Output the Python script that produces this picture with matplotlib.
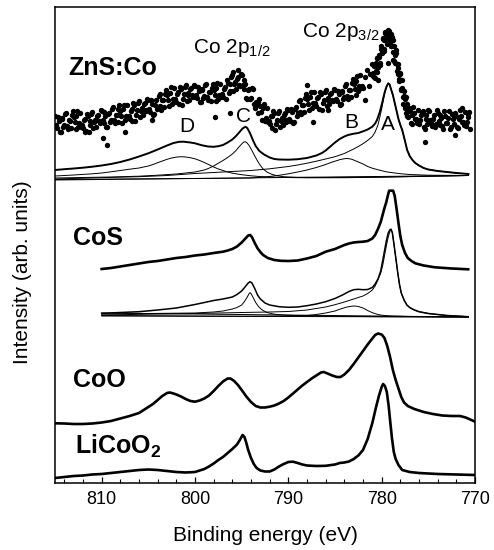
import matplotlib
matplotlib.use("Agg")
from matplotlib import pyplot as plt

plt.rcParams['font.family'] = ['Liberation Sans', 'DejaVu Sans']
plt.rcParams['mathtext.fontset'] = 'custom'
plt.rcParams['mathtext.rm'] = 'Liberation Sans'
plt.rcParams['mathtext.bf'] = 'Liberation Sans:bold'

# ---- ZnS:Co measured points (binding energy in eV, intensity in arb. units incl. offset)
zns_dot_ev = [
    815.0, 814.8, 814.6, 814.4, 814.2, 814.0, 813.8, 813.6, 813.4, 813.2,
    813.0, 812.8, 812.6, 812.4, 812.2, 812.0, 811.8, 811.6, 811.4, 811.2, 811.8,
    811.0, 810.8, 810.6, 810.4, 810.2, 809.85, 809.4,
    810.0, 809.8, 809.6, 809.4, 809.2, 809.0, 808.8, 808.6, 808.4, 808.2,
    808.0, 807.8, 807.6, 807.4, 807.2, 807.5, 807.0, 806.8, 806.6, 806.4, 806.2,
    806.0, 805.8, 805.6, 805.4, 805.2, 805.0, 804.8, 804.6, 804.4, 804.2, 804.6,
    804.0, 803.8, 803.6, 803.4, 803.2, 803.0, 802.8, 802.6, 802.4, 802.2,
    802.0, 801.8, 801.6, 801.4, 801.2, 801.0, 800.8, 800.6, 800.4, 800.2,
    800.0, 799.8, 799.6, 799.4, 799.2, 799.0, 798.8, 798.6, 798.4, 798.2,
    798.0, 797.8, 797.6, 797.4, 797.2, 797.85, 797.0, 796.8, 796.6, 796.4, 796.2, 796.2,
    796.0, 795.8, 795.6, 795.4, 795.2, 795.9, 795.4,
    795.0, 794.8, 794.6, 794.4, 794.2, 794.0, 793.8, 793.6, 793.4, 793.2,
    793.0, 792.8, 792.6, 792.4, 792.2, 792.0, 791.8, 791.6, 791.4, 791.2,
    791.0, 790.8, 790.6, 790.4, 790.2, 790.0, 789.8, 789.6, 789.4, 789.2,
    789.0, 788.8, 788.6, 788.4, 788.2, 788.0, 787.8, 787.6, 787.4, 787.2,
    787.0, 786.8, 786.6, 786.4, 786.2, 787.35, 788.0, 785.7,
    786.0, 785.8, 785.6, 785.4, 785.2, 785.0, 784.8, 784.6, 784.4, 784.2,
    784.0, 783.8, 783.6, 783.4, 783.2, 783.0, 782.8, 782.6, 782.4, 782.2,
    782.0, 781.8, 781.6, 781.4, 781.2, 781.8,
    781.0, 780.9, 780.8, 780.7, 780.6, 780.5, 780.4, 780.3, 780.2, 780.1, 780.4,
    780.0, 779.9, 779.8, 779.7, 779.6, 779.5, 779.4, 779.3, 779.2, 779.1,
    779.0, 778.9, 778.8, 778.7, 778.6, 779.3, 778.8,
    778.5, 778.4, 778.3, 778.2, 778.1, 778.0, 777.9, 777.8, 777.7, 777.6,
    777.5, 777.4, 777.3, 777.2, 777.1, 777.0, 776.8, 776.6, 776.4, 776.2,
    776.0, 775.8, 775.6, 775.4, 775.2, 775.35, 775.0, 774.8, 774.6, 774.4, 774.2,
    774.0, 773.8, 773.6, 773.4, 773.2, 773.0, 772.8, 772.6, 772.4, 772.2,
    772.0, 771.8, 771.6, 771.4, 771.2, 772.1, 771.0, 770.8, 770.6, 771.4,
]
zns_dot_int = [
    367, 355, 362, 351, 365, 358, 370, 354, 362, 368,
    366, 354, 372, 360, 356, 355, 364, 369, 351, 362, 351,
    371, 361, 356, 368, 360, 345, 338,
    372, 360, 367, 356, 370, 363, 376, 360, 368, 374,
    372, 360, 378, 367, 365, 351, 364, 374, 380, 362, 373,
    382, 372, 368, 380, 372, 383, 371, 379, 369, 383, 363,
    376, 389, 373, 383, 389, 388, 377, 396, 384, 382,
    381, 391, 396, 378, 389, 398, 388, 383, 395, 386,
    397, 385, 392, 381, 394, 387, 399, 383, 391, 395,
    393, 382, 400, 388, 386, 366, 386, 396, 403, 390, 399, 370,
    408, 399, 394, 406, 397, 411, 413,
    408, 394, 399, 384, 394, 385, 394, 375, 379, 381,
    377, 363, 379, 365, 361, 359, 367, 372, 353, 363,
    372, 362, 358, 370, 361, 373, 362, 371, 361, 376,
    370, 383, 369, 378, 385, 384, 373, 391, 380, 377,
    377, 386, 391, 373, 383, 361, 398, 373,
    393, 383, 379, 390, 382, 393, 382, 389, 379, 392,
    386, 399, 384, 393, 400, 399, 388, 407, 397, 395,
    395, 406, 413, 397, 409, 383,
    419, 410, 406, 419, 412, 425, 416, 426, 418, 434, 403,
    430, 445, 432, 443, 450, 450, 439, 453, 444, 440,
    437, 443, 443, 422, 428, 420, 423,
    433, 419, 409, 415, 402, 410, 393, 395, 379, 387,
    377, 386, 367, 372, 375, 372, 359, 376, 364, 360,
    359, 368, 372, 354, 364, 341, 373, 363, 357, 368, 359,
    370, 358, 365, 354, 367, 360, 372, 356, 364, 369,
    367, 355, 373, 361, 358, 348, 357, 366, 371, 375,
]
zns_dot2_ev = [
    814.9, 814.7, 814.5, 814.3, 814.1, 813.9, 813.7, 813.5, 813.3, 813.1,
    812.9, 812.7, 812.5, 812.3, 812.1, 811.9, 811.7, 811.5, 811.3, 811.1,
    810.9, 810.7, 810.5, 810.3, 810.1, 809.9, 809.7, 809.5, 809.3, 809.1,
    808.9, 808.7, 808.5, 808.3, 808.1, 807.9, 807.7, 807.5, 807.3, 807.1,
    806.9, 806.7, 806.5, 806.3, 806.1, 805.9, 805.7, 805.5, 805.3, 805.1,
    804.9, 804.7, 804.5, 804.3, 804.1, 803.9, 803.7, 803.5, 803.3, 803.1,
    802.9, 802.7, 802.5, 802.3, 802.1, 801.9, 801.7, 801.5, 801.3, 801.1,
    800.9, 800.7, 800.5, 800.3, 800.1, 799.9, 799.7, 799.5, 799.3, 799.1,
    798.9, 798.7, 798.5, 798.3, 798.1, 797.9, 797.7, 797.5, 797.3, 797.1,
    796.9, 796.7, 796.5, 796.3, 796.1, 795.9, 795.7, 795.5, 795.3, 795.1,
    794.9, 794.7, 794.5, 794.3, 794.1, 793.9, 793.7, 793.5, 793.3, 793.1,
    792.9, 792.7, 792.5, 792.3, 792.1, 791.9, 791.7, 791.5, 791.3, 791.1,
    790.9, 790.7, 790.5, 790.3, 790.1, 789.9, 789.7, 789.5, 789.3, 789.1,
    788.9, 788.7, 788.5, 788.3, 788.1, 787.9, 787.7, 787.5, 787.3, 787.1,
    786.9, 786.7, 786.5, 786.3, 786.1, 785.9, 785.7, 785.5, 785.3, 785.1,
    784.9, 784.7, 784.5, 784.3, 784.1, 783.9, 783.7, 783.5, 783.3, 783.1,
    782.9, 782.7, 782.5, 782.3, 782.1,
    780.95, 780.85, 780.75, 780.65, 780.55, 780.45, 780.35, 780.25, 780.15, 780.05,
    779.95, 779.85, 779.75, 779.65, 779.55, 779.45, 779.35, 779.25, 779.15, 779.05,
    778.95, 778.85, 778.75, 778.65, 778.55, 778.45, 778.35, 778.25, 778.15, 778.05,
    777.95, 777.85, 777.75, 777.65, 777.55, 777.45, 777.35, 777.25, 777.15, 777.05,
    776.9, 776.7, 776.5, 776.3, 776.1, 775.9, 775.7, 775.5, 775.3, 775.1,
    774.9, 774.7, 774.5, 774.3, 774.1, 773.9, 773.7, 773.5, 773.3, 773.1,
    772.9, 772.7, 772.5, 772.3, 772.1, 771.9, 771.7, 771.5, 771.3, 771.1,
    770.9, 770.7, 770.5,
]
zns_dot2_int = [
    358, 366, 351, 364, 356, 369, 357, 363, 355, 372,
    361, 367, 356, 370, 358, 363, 352, 367, 358, 369,
    355, 363, 367, 362, 373, 363, 371, 356, 369, 361,
    374, 363, 368, 361, 378, 367, 374, 363, 378, 367,
    372, 362, 378, 368, 380, 366, 375, 379, 373, 384,
    374, 383, 368, 378, 374, 387, 377, 383, 376, 393,
    383, 390, 379, 395, 384, 389, 379, 394, 384, 396,
    382, 390, 394, 388, 398, 388, 396, 381, 393, 385,
    398, 386, 391, 382, 399, 388, 395, 384, 399, 389,
    394, 384, 400, 392, 406, 392, 401, 404, 398, 409,
    398, 403, 385, 393, 384, 395, 379, 381, 370, 384,
    371, 375, 362, 375, 362, 367, 355, 370, 359, 370,
    356, 365, 368, 363, 374, 364, 374, 360, 374, 367,
    382, 371, 378, 371, 389, 379, 386, 375, 391, 380,
    385, 374, 389, 380, 391, 377, 385, 389, 383, 394,
    384, 392, 378, 391, 384, 397, 387, 393, 386, 404,
    394, 402, 392, 408, 397,
    407, 417, 405, 420, 411, 425, 416, 428, 420, 437,
    431, 444, 434, 451, 443, 448, 441, 452, 442, 449,
    437, 446, 431, 437, 420, 430, 412, 419, 404, 409,
    394, 403, 386, 392, 375, 384, 370, 379, 366, 374,
    360, 368, 370, 364, 373, 363, 371, 356, 368, 359,
    372, 360, 364, 356, 373, 362, 368, 357, 372, 360,
    365, 354, 369, 359, 370, 356, 364, 367, 361, 371,
    361, 369, 354,
]

# ---- ZnS:Co fit envelope, components and background
zns_fit_ev = [815, 814, 813, 812, 811, 810, 809, 808, 807, 806,
              805, 804, 803, 802.3, 801.7, 801.2, 800.5, 800, 799.3, 798.6,
              798, 797.5, 797, 796.5, 796, 795.6, 795.2, 794.9, 794.6, 794.4,
              794.1, 793.8, 793.5, 793.1, 792.6, 792, 791.5, 791, 790, 789,
              788, 787, 786.4, 786, 785.5, 785, 784.5, 784, 783.6, 783,
              782.5, 782.1, 781.5, 781, 780.7, 780.5, 780.2, 779.95, 779.7, 779.5,
              779.3, 779.15, 779, 778.8, 778.6, 778.4, 778.2, 778, 777.8, 777.5,
              777.27, 777, 776.7, 776.4, 776, 775.5, 775, 774, 773, 772, 770.7]
zns_fit_int = [313, 313.8, 314.5, 315.3, 316.3, 317.5, 319, 321, 323.5, 326.5,
               329.7, 333.5, 337.5, 340, 341.2, 341.3, 340.5, 339.7, 337.8, 336.5,
               336.2, 336.8, 338, 340.5, 343.5, 347, 351.3, 354.5, 356.3, 355,
               349.7, 343, 337, 332, 328.5, 325.5, 324, 323.5, 323.3, 323.8,
               325, 327.5, 330, 332.5, 336.5, 340.5, 344, 346.5, 348, 349.3,
               350, 351.3, 353.5, 356.3, 359.5, 363, 371, 380, 390, 396,
               399.7, 398.5, 394, 388, 380, 372, 364, 358, 353, 342,
               333, 327, 323, 320, 317.5, 315, 313.5, 312, 311, 310, 309]
zns_bg_ev = [815.0, 770.7]
zns_bg_int = [303, 307.5]
zns_d_ev = [815, 814, 813, 812, 811, 810, 809, 808, 807, 806,
            805, 804.5, 804, 803.5, 803, 802.5, 802, 801.5, 801, 800.5,
            800, 799.5, 799, 798.5, 798, 797.5, 797, 796.5, 796, 795,
            794, 793, 791, 788, 784, 780, 775, 770.7]
zns_d_int = [307, 307.5, 308, 308.6, 309.2, 310, 311.2, 312.5, 313.8, 315,
             317, 318.5, 320.3, 322, 323.7, 325, 325.9, 326.3, 326, 325.3,
             324.2, 322.5, 320.5, 318.3, 316, 314, 312.5, 311, 309.8, 308.3,
             307.2, 306.4, 305.6, 305.2, 305.3, 305.8, 306.7, 307.5]
zns_c_ev = [815, 812, 809, 806, 804, 802, 801, 800, 799, 798.5,
            798, 797.5, 797, 796.5, 796, 795.6, 795.3, 795, 794.8, 794.64,
            794.45, 794.2, 793.9, 793.6, 793.3, 793, 792.7, 792.3, 791.8, 791.2,
            790.5, 789, 786, 780, 770.7]
zns_c_int = [305, 305.5, 306, 306.8, 307.8, 309, 310, 311, 313, 314.8,
             317, 319.8, 322.5, 325.5, 329, 332.5, 336, 339, 340.8, 341.3,
             340.3, 337.5, 332.5, 327, 322, 317.5, 314, 311, 308.8, 307.2,
             306.3, 305.6, 305.5, 306, 307.5]
zns_b_ev = [815, 805, 800, 796, 794, 792, 791, 790, 789, 788,
            787, 786.5, 786, 785.5, 785, 784.5, 784, 783.7, 783.3, 783,
            782.5, 782, 781.5, 781, 780.5, 780, 779.5, 779, 778, 777,
            775, 770.7]
zns_b_int = [303.5, 304.2, 304.5, 304.8, 305, 306.5, 307.7, 309.2, 311, 313,
             315.5, 317, 318.5, 320.3, 321.8, 323.3, 324.3, 324.5, 324, 323,
             321, 319, 316.5, 314.8, 313.5, 312.3, 311.2, 310.5, 309.3, 308.5,
             307.8, 307.5]
zns_a_ev = [815, 812, 809, 806, 803, 800, 797, 794, 792, 790,
            789, 788, 787, 786, 785, 784, 783, 782.5, 782, 781.5,
            781, 780.7, 780.4, 780.17, 780, 779.8, 779.63, 779.45, 779.3, 779.15,
            779, 778.8, 778.6, 778.4, 778.2, 778, 777.8, 777.5, 777.27, 777,
            776.7, 776.4, 776, 775.5, 775, 774, 773, 772, 770.7]
zns_a_int = [304, 304.8, 305.6, 306.3, 307.5, 309.5, 311, 312.5, 314.2, 316.5,
             318, 319.8, 321.8, 324, 326.3, 329.5, 334, 336.5, 339.3, 342.6,
             346.5, 351, 358, 367, 374, 384, 391.3, 397, 399.7, 398.5,
             394, 388, 380, 372, 364, 358, 353, 342, 333, 327,
             323, 320, 317.5, 315, 313.5, 312, 311, 310, 309]

# ---- CoS measured
cos_ev = [810, 809, 808, 807, 806, 805, 804, 803, 802, 801,
          800, 799, 798, 797, 796.5, 796, 795.5, 795, 794.6, 794.3,
          794.1, 793.9, 793.6, 793.3, 793, 792.7, 792.2, 791.5, 790.8, 790,
          789, 788, 787, 786, 785, 784, 783.5, 783, 782.5, 782,
          781.5, 781, 780.7, 780.4, 780.1, 779.9, 779.7, 779.5, 779.35, 779.2,
          778.77, 778.6, 778.4, 778.2, 778, 777.8, 777.5, 777.2, 776.8, 776.4,
          775.5, 774.3, 772.5, 770.73]
cos_int = [214, 215, 216.5, 218, 219.5, 221, 222, 223.5, 225, 226,
           227.5, 228.5, 230, 231.3, 232.5, 234, 236.5, 240.5, 244.5, 247.5,
           248, 246, 240, 234.7, 231, 228, 225, 223, 222.2, 222,
           222.5, 224.5, 227, 231.3, 234, 238, 239.5, 240.5, 241, 241.3,
           242, 244.5, 248, 254, 261, 268, 275, 281, 287, 292.3,
           292.3, 287, 274, 260, 247, 238, 230, 225, 222, 219.7,
           217.5, 215.7, 214.5, 213.7]

# ---- CoS fit envelope, components and background
cosf_ev = [810, 808, 806, 804, 802, 800, 799, 798, 797, 796,
           795.5, 795, 794.6, 794.3, 794.1, 793.9, 793.6, 793.3, 793, 792.5,
           792, 791, 790, 789, 788, 787, 786, 785, 784.2, 783.5,
           783, 782.5, 782, 781.5, 781, 780.7, 780.4, 780.1, 779.9, 779.7,
           779.5, 779.3, 779.1, 778.99, 778.85, 778.7, 778.5, 778.3, 778.1, 777.9,
           777.6, 777.3, 777, 776.5, 776, 775, 774, 773, 772, 770.73]
cosf_int = [169.7, 170.5, 171.3, 173, 175, 178.5, 180.5, 182.5, 184, 186,
            188.5, 192, 196.5, 200, 201.3, 200, 194.5, 188, 184, 180,
            178, 176.3, 175.7, 176, 177.3, 179, 181.3, 184.5, 188, 191.5,
            193.3, 193.7, 193.3, 193.5, 195.5, 199, 204, 212, 222, 232,
            242, 250, 253.5, 253.7, 250, 240, 226, 212, 199, 190,
            183, 178, 175.5, 173, 171.3, 169.5, 168.5, 167.5, 167, 166.3]
cos_bg1_ev = [810.0, 770.73]
cos_bg1_int = [170, 166]
cos_bg2_ev = [810.0, 790.0, 770.73]
cos_bg2_int = [167, 166.5, 166]
cos_c_ev = [810, 805, 800, 798, 797, 796.5, 796, 795.5, 795, 794.7,
            794.4, 794.2, 794.1, 794, 793.8, 793.5, 793.2, 792.8, 792.3, 791.5,
            790.5, 789, 786, 780, 770.73]
cos_c_int = [169, 169.5, 170, 171, 172, 173, 174, 175.5, 178, 181.5,
             186, 189.5, 190.3, 189.5, 186, 180.5, 176.5, 173, 170.5, 168.8,
             168, 167.3, 166.8, 166.3, 166]
cos_b_ev = [810, 800, 795, 790, 788, 787, 786, 785, 784.4, 783.8,
            783.2, 782.9, 782.5, 782, 781.5, 781, 780.5, 780, 779, 777,
            770.73]
cos_b_int = [167.5, 167, 166.8, 167, 167.5, 168.5, 170, 172, 174, 175.8,
             176.8, 177, 176.5, 175, 172.5, 170.3, 168.8, 167.8, 167, 166.5,
             166]
cos_a_ev = [810, 805, 800, 795, 792, 790, 788, 787, 786, 785,
            784, 783, 782, 781.5, 781, 780.7, 780.4, 780.1, 779.9, 779.7,
            779.5, 779.3, 779.1, 778.99, 778.85, 778.7, 778.5, 778.3, 778.1, 777.9,
            777.6, 777.3, 777, 776.5, 776, 775, 774, 773, 772, 770.73]
cos_a_int = [168, 168.8, 169.5, 170.5, 171, 171.5, 173, 174.5, 176, 178.3,
             181, 184, 187, 189.5, 193, 197, 203, 210, 217, 227,
             237, 246, 252, 253.7, 250, 240, 226, 212, 199, 190,
             183, 178, 175.5, 173, 171.3, 169.5, 168.5, 167.5, 167, 166.3]

# ---- CoO measured
coo_ev = [815, 814, 813, 812, 811, 810, 809, 808, 807, 806,
          805.5, 805, 804.5, 804, 803.5, 803, 802.7, 802.3, 802, 801.5,
          801, 800.5, 800, 799.5, 799, 798.5, 798, 797.5, 797, 796.5,
          796.2, 795.8, 795.4, 795, 794.5, 794, 793.5, 793, 792.5, 792,
          791.5, 791, 790.5, 790, 789.5, 789, 788.5, 788, 787.5, 787,
          786.5, 786.2, 785.8, 785.3, 784.8, 784.4, 784, 783.5, 783, 782.5,
          782, 781.5, 781, 780.7, 780.4, 780, 779.7, 779.4, 779.1, 778.8,
          778.5, 778.2, 777.9, 777.6, 777.2, 776.5, 775.5, 774.5, 773.5, 772.5,
          771.6, 771, 770.5, 770]
coo_int = [59.7, 59.5, 59, 59, 59.5, 60.5, 62, 64.5, 67, 70,
           73, 76, 79, 83, 87, 90, 90.5, 89.5, 88.5, 86.5,
           84, 82, 81.3, 82.5, 84.5, 87.5, 92, 97, 101.5, 104.5,
           104.5, 102, 98, 93, 86.5, 81, 77, 75.5, 75.5, 76.3,
           77.5, 79.5, 82, 85.5, 89.5, 93.5, 97.5, 101, 104.5, 107.5,
           110.5, 111, 109.5, 107.5, 106, 106, 108.5, 113, 119, 125.5,
           132, 138.5, 144.5, 148, 149.5, 148.5, 145, 137, 126, 113,
           103, 94.5, 86, 80.5, 77, 74, 71, 69, 67.5, 67,
           67, 65.5, 63.5, 61.3]

# ---- LiCoO2 measured
lco_ev = [815, 814, 813, 812, 811, 810, 809, 808, 807, 806,
          805, 804, 803, 802, 801, 800, 799.5, 799, 798.5, 798,
          797.5, 797, 796.5, 796, 795.5, 795.2, 794.9, 794.7, 794.5, 794.3,
          794, 793.7, 793.4, 793, 792.5, 792, 791.5, 791, 790.5, 790,
          789.5, 789, 788.5, 788, 787, 786, 785, 784.5, 784, 783.5,
          783, 782.5, 782, 781.5, 781, 780.6, 780.3, 780, 779.85, 779.65,
          779.45, 779.25, 779.1, 778.9, 778.7, 778.5, 778.2, 777.8, 777, 776,
          774, 772, 770]
lco_int = [5, 6, 7, 7.5, 8.5, 9, 10, 11, 12, 13,
           13.5, 13, 12, 11, 10.5, 11, 12.5, 14, 16.5, 19.5,
           23, 26, 30, 34, 38.5, 43, 48, 46, 40, 33,
           25, 19, 15, 12.5, 11.5, 11.5, 13.5, 16.5, 19, 21,
           21.3, 20, 18.5, 17.5, 17, 17.2, 18.5, 20, 20.5, 21.5,
           24, 27.5, 33, 44, 60, 76, 87, 96, 99, 97,
           91, 77, 63, 45, 31, 24, 18, 13, 11, 10,
           9, 8.5, 8]

fig = plt.figure(figsize=(4.94, 5.5), dpi=100)
ax = fig.add_axes([55 / 494, 67 / 550, 420 / 494, 476 / 550])

ax.scatter(zns_dot_ev + zns_dot2_ev, zns_dot_int + zns_dot2_int,
           s=15, color='black', linewidths=0, zorder=3)
thin = dict(color='black', lw=0.7)
ax.plot(zns_bg_ev, zns_bg_int, **thin)
ax.plot(zns_d_ev, zns_d_int, **thin)
ax.plot(zns_c_ev, zns_c_int, **thin)
ax.plot(zns_b_ev, zns_b_int, **thin)
ax.plot(zns_a_ev, zns_a_int, **thin)
ax.plot(zns_fit_ev, zns_fit_int, color='black', lw=1.4)

ax.plot(cos_ev, cos_int, color='black', lw=1.9)
ax.plot(cos_bg1_ev, cos_bg1_int, **thin)
ax.plot(cos_bg2_ev, cos_bg2_int, **thin)
ax.plot(cos_c_ev, cos_c_int, **thin)
ax.plot(cos_b_ev, cos_b_int, **thin)
ax.plot(cos_a_ev, cos_a_int, **thin)
ax.plot(cosf_ev, cosf_int, color='black', lw=1.1)

ax.plot(coo_ev, coo_int, color='black', lw=1.9)
ax.plot(lco_ev, lco_int, color='black', lw=1.9)

ax.text(813.6, 408, 'ZnS:Co', fontsize=18, fontweight='bold')
ax.text(813.1, 238, 'CoS', fontsize=18, fontweight='bold')
ax.text(813.1, 96, 'CoO', fontsize=18, fontweight='bold')
ax.text(812.9, 29, r'LiCoO$_\mathbf{2}$', fontsize=18, fontweight='bold')
ax.text(800.2, 430, r'Co 2p$_{\mathrm{1/2}}$', fontsize=15)
ax.text(788.5, 446, r'Co 2p$_{\mathrm{3/2}}$', fontsize=15)
for lab, e, h in [('D', 800.85, 357), ('C', 794.85, 367), ('B', 783.3, 360), ('A', 779.3, 358)]:
    ax.text(e, h, lab, fontsize=15, ha='center', va='center')

ax.set_xlim(815, 770)
ax.set_ylim(0, 476)
ax.set_xticks([810, 800, 790, 780, 770])
ax.set_xticks(range(770, 816, 2), minor=True)
ax.set_yticks([])
ax.tick_params(axis='x', which='major', direction='in', length=4.5, width=0.9, labelsize=13, pad=6)
ax.tick_params(axis='x', which='minor', direction='in', length=3, width=0.8)
for sp in ax.spines.values():
    sp.set_linewidth(1.1)
ax.set_xlabel('Binding energy (eV)', fontsize=15, labelpad=13)
ax.set_ylabel('Intensity (arb. units)', fontsize=15)
ax.yaxis.set_label_coords(-0.055, 0.443)

fig.savefig('out.png', dpi=100)
